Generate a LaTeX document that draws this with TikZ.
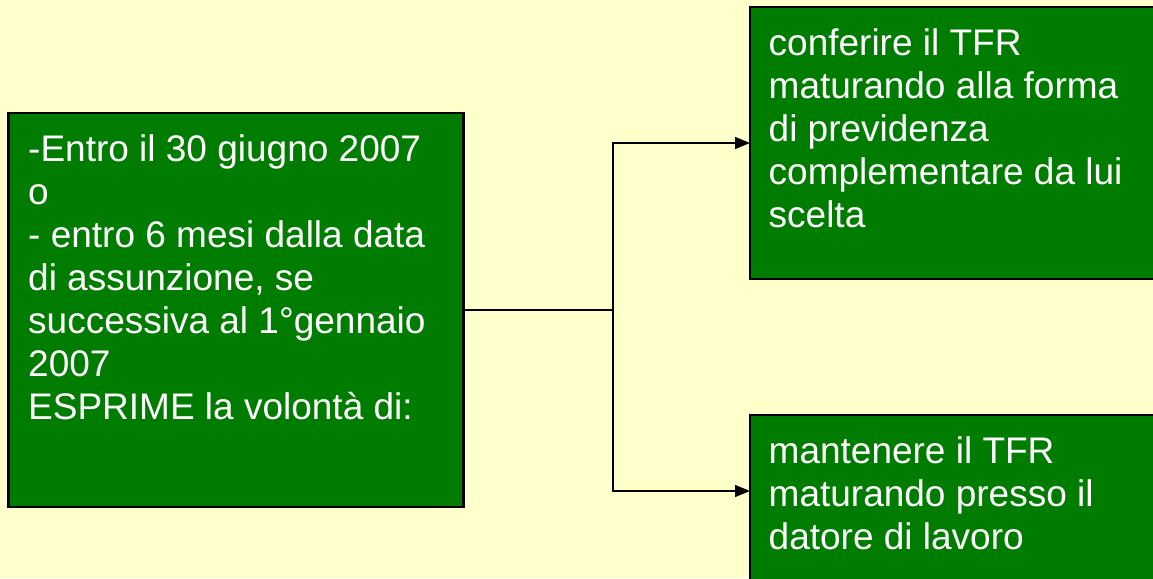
\documentclass[tikz,border=0pt]{standalone}
\usepackage{fontspec}
\setmainfont{Liberation Sans}
\usetikzlibrary{arrows.meta}
\definecolor{bgyellow}{HTML}{FFFFCC}
\definecolor{boxgreen}{HTML}{007D00}
\tikzset{
  greenbox/.style={draw=black, line width=2.5pt, fill=boxgreen, inner sep=0pt, outer sep=0pt, anchor=north west},
  boxtext/.style={text=white, anchor=north west, inner sep=0pt, align=left, font=\fontsize{37}{43}\selectfont},
  link/.style={draw=black, line width=1.4pt},
  arrowlink/.style={link, -{Triangle[length=15pt,width=12pt]}}
}
\begin{document}
\begin{tikzpicture}[x=1pt,y=-1pt]
\useasboundingbox (0,0) rectangle (1153,578);
\fill[bgyellow] (0,0) rectangle (1153,578);
\clip (0,0) rectangle (1153,578);
\node[greenbox, minimum width=455pt, minimum height=394pt] (L) at (8.5,113) {};
\node[greenbox, minimum width=415pt, minimum height=272pt] (T) at (750,7) {};
\node[greenbox, minimum width=415pt, minimum height=175pt] (B) at (750,415) {};
\node[boxtext] (Lt) at (28,130.9) {\strut-Entro il 30 giugno 2007\\o\\- entro 6 mesi dalla data\\di assunzione, se\\successiva al 1°gennaio\\2007\\ESPRIME la volontà di:};
\node[boxtext] (Tt) at (768.5,24.9) {\strut conferire il TFR\\maturando alla forma\\di previdenza\\complementare da lui\\scelta};
\node[boxtext] (Bt) at (768.5,432.9) {\strut mantenere il TFR\\maturando presso il\\datore di lavoro};
\coordinate (J) at (613,310);
\draw[link] (L.east) -- (J);
\draw[arrowlink] (J) |- (T.west);
\draw[arrowlink] (J) |- ([yshift=11.5pt]B.west);
\end{tikzpicture}
\end{document}
